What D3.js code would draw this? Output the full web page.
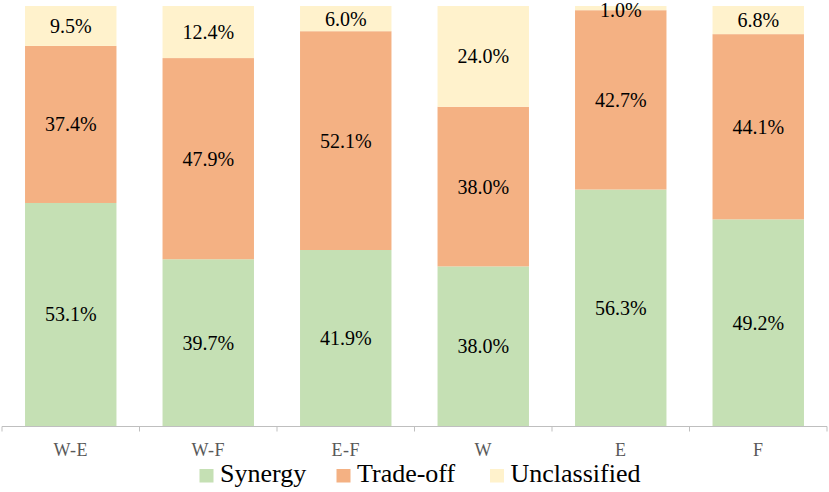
<!DOCTYPE html>
<html>
<head>
<meta charset="utf-8">
<script src="https://cdn.jsdelivr.net/npm/d3@7/dist/d3.min.js"></script>
<style>
  html, body { margin: 0; padding: 0; background: #fff; font-family: 'Liberation Serif', serif; }
  svg { display: block; }
</style>
</head>
<body>
<svg id="chart" width="829" height="492" style="font-family:'Liberation Serif'"><text x="0" y="480" style="font-family:'Liberation Serif';font-size:20px">&#160;</text></svg>
<script>
const categories = ["W-E", "W-F", "E-F", "W", "E", "F"];
const seriesNames = ["Synergy", "Trade-off", "Unclassified"];
const synergy = [53.1, 39.7, 41.9, 38.0, 56.3, 49.2];
const tradeoff = [37.4, 47.9, 52.1, 38.0, 42.7, 44.1];
const unclassified = [9.5, 12.4, 6.0, 24.0, 1.0, 6.8];
const colors = ["#C5E0B4", "#F4B183", "#FFF2CC"];

const FONT = "'Liberation Serif'";

const seriesValues = [synergy, tradeoff, unclassified];
const table = categories.map((c, i) => {
  const row = { cat: c };
  seriesNames.forEach((s, j) => row[s] = seriesValues[j][i]);
  return row;
});

const svg = d3.select("#chart");
const x = d3.scaleBand().domain(categories).range([2, 827]).paddingInner(0.335).paddingOuter(0.1675);
const y = d3.scaleLinear().domain([0, 100]).range([426, 6]);

const stack = d3.stack().keys(seriesNames);
const stacked = stack(table);

const groups = svg.append("g").selectAll("g").data(stacked).join("g")
  .attr("fill", (d, i) => colors[i]);

groups.selectAll("rect").data(d => d).join("rect")
  .attr("x", d => x(d.data.cat))
  .attr("width", x.bandwidth())
  .attr("y", d => y(Math.min(d[1], 100)))
  .attr("height", d => y(d[0]) - y(Math.min(d[1], 100)));

const labels = svg.append("g");
stacked.forEach((s, si) => {
  s.forEach(d => {
    const top = Math.min(d[1], 100);
    const cy = Math.max((y(d[0]) + y(top)) / 2, 10);
    labels.append("text")
      .attr("x", x(d.data.cat) + x.bandwidth() / 2)
      .attr("y", cy)
      .attr("dy", "0.35em")
      .attr("text-anchor", "middle")
      .style("font-family", FONT)
      .style("font-size", "20px")
      .style("fill", "#000")
      .text(d.data[s.key].toFixed(1) + "%");
  });
});

// X axis
const axisG = svg.append("g").attr("transform", "translate(0,426.5)");
axisG.append("line").attr("x1", 2).attr("x2", 827).attr("stroke", "#BFBFBF").attr("stroke-width", 1);
const step = x.step();
const tickPos = d3.range(categories.length + 1).map(i => 2 + i * step);
axisG.selectAll("line.tick").data(tickPos).join("line")
  .attr("class", "tick")
  .attr("x1", d => d).attr("x2", d => d)
  .attr("y1", 0).attr("y2", 5)
  .attr("stroke", "#BFBFBF");
axisG.selectAll("text").data(categories).join("text")
  .attr("x", d => x(d) + x.bandwidth() / 2)
  .attr("y", 29.5)
  .attr("text-anchor", "middle")
  .style("font-family", FONT)
  .style("font-size", "18px")
  .style("letter-spacing", "0.5px")
  .style("fill", "#595959")
  .text(d => d);

// Legend
const legendX = [199.5, 336.5, 490];
const leg = svg.append("g");
seriesNames.forEach((s, i) => {
  leg.append("rect")
    .attr("x", legendX[i]).attr("y", 469)
    .attr("width", 14).attr("height", 13.5)
    .attr("fill", colors[i]);
  leg.append("text")
    .attr("x", legendX[i] + 20.5).attr("y", 482)
    .style("font-family", FONT)
    .style("font-size", "26px")
    .style("fill", "#000")
    .text(s);
});
</script>
</body>
</html>
